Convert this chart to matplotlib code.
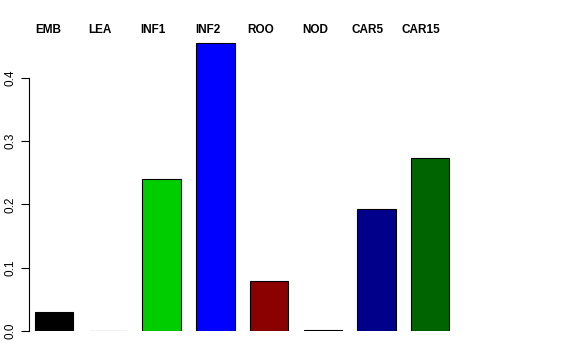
import matplotlib
matplotlib.use("Agg")
import matplotlib.pyplot as plt

plt.rcParams["font.family"] = ["Liberation Sans", "DejaVu Sans"]

# Значения по тканям
tissues = ["EMB", "LEA", "INF1", "INF2", "ROO", "NOD", "CAR5", "CAR15"]
values = [0.030, 0.0004, 0.240, 0.455, 0.079, 0.0015, 0.193, 0.2735]
colors = ["black", "gray", "#00CD00", "blue", "#8B0000", "black", "#00008B", "#006400"]
label_x_px = [35, 88, 140, 195, 247, 302, 351, 402]
yticks = [0.0, 0.1, 0.2, 0.3, 0.4]

W, H = 576, 360
fig = plt.figure(figsize=(W / 100, H / 100), dpi=100)

# Положение осей в пикселях
left_px, right_px = 29, 560
bottom_px, top_px = 331, 20
px_per_x = 38.37
px_per_y = 632.5
x0 = 0.218 + 1 / px_per_x
ax = fig.add_axes([left_px / W, 1 - bottom_px / H,
                   (right_px - left_px) / W, (bottom_px - top_px) / H])

lefts = [0.4 + 1.4 * i for i in range(len(values))]
ax.bar(lefts, values, width=1.0, align="edge", color=colors,
       edgecolor="black", linewidth=0.8)

ax.set_xlim(x0, x0 + (right_px - left_px) / px_per_x)
ax.set_ylim(0, (bottom_px - top_px) / px_per_y)

for s in ["top", "right", "bottom"]:
    ax.spines[s].set_visible(False)
ax.spines["left"].set_bounds(0, 0.4)
ax.spines["left"].set_linewidth(0.8)
ax.set_xticks([])
ax.set_yticks(yticks)
ax.set_yticklabels([f"{t:.1f}" for t in yticks], rotation=90, va="center", fontsize=8.5)
ax.tick_params(axis="y", length=6, width=0.8, pad=3)

for name, xp in zip(tissues, label_x_px):
    fig.text(xp / W, 1 - 33 / H, name, ha="left", va="baseline",
             fontsize=8.5, fontweight="bold")

fig.savefig("out.png", dpi=100)
